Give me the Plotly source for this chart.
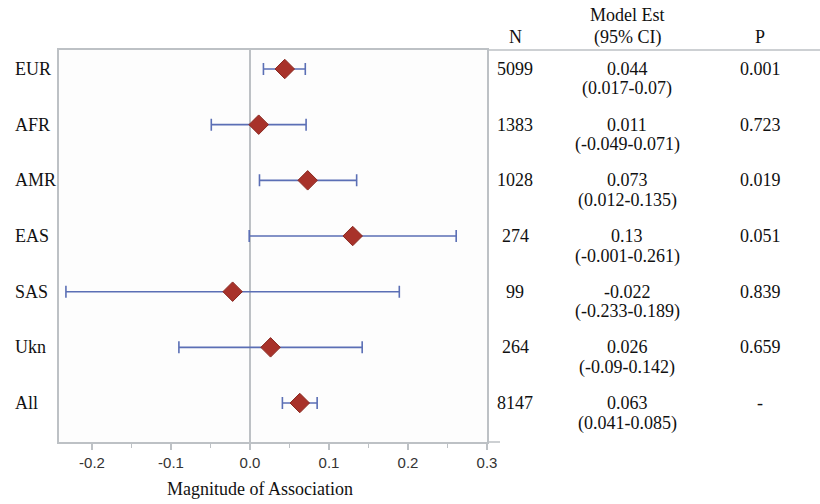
import plotly.graph_objects as go

groups = ["EUR", "AFR", "AMR", "EAS", "SAS", "Ukn", "All"]
est = [0.044, 0.011, 0.073, 0.13, -0.022, 0.026, 0.063]
lo = [0.017, -0.049, 0.012, -0.001, -0.233, -0.09, 0.041]
hi = [0.07, 0.071, 0.135, 0.261, 0.189, 0.142, 0.085]
n_vals = ["5099", "1383", "1028", "274", "99", "264", "8147"]
ci_text = ["(0.017-0.07)", "(-0.049-0.071)", "(0.012-0.135)", "(-0.001-0.261)",
           "(-0.233-0.189)", "(-0.09-0.142)", "(0.041-0.085)"]
est_text = ["0.044", "0.011", "0.073", "0.13", "-0.022", "0.026", "0.063"]
p_vals = ["0.001", "0.723", "0.019", "0.051", "0.839", "0.659", "-"]
x_ticks = [-0.2, -0.1, 0.0, 0.1, 0.2, 0.3]
x_tick_labels = ["-0.2", "-0.1", "0.0", "0.1", "0.2", "0.3"]

W, H = 820, 504
L, R, T, B = 59, 487, 50, 442
pw, ph = R - L, B - T

def px(xpix):
    return (xpix - L) / pw

def py(ypix):
    return (B - ypix) / ph

ypos = list(range(len(groups)))
err_plus = [h - e for h, e in zip(hi, est)]
err_minus = [e - l for e, l in zip(est, lo)]

serif = "Liberation Serif"
sans = "Liberation Sans"
FS = 18
AX = "#bdc1c5"

fig = go.Figure()
fig.add_trace(go.Scatter(
    x=est, y=ypos, mode="markers",
    marker=dict(symbol="diamond", size=15, color="#a8322a",
                line=dict(color="#8a2a22", width=1)),
    error_x=dict(type="data", symmetric=False, array=err_plus, arrayminus=err_minus,
                 color="#5b6fb5", thickness=1.6, width=6),
    showlegend=False, hoverinfo="skip",
))

annotations = []
for i, g in enumerate(groups):
    annotations.append(dict(x=px(13), y=i, xref="paper", yref="y", text=g,
                            showarrow=False, xanchor="left", yanchor="middle",
                            font=dict(family=serif, size=FS, color="#111")))
    annotations.append(dict(x=px(515), y=i, xref="paper", yref="y", text=n_vals[i],
                            showarrow=False, xanchor="center", yanchor="middle",
                            font=dict(family=serif, size=FS, color="#111")))
    annotations.append(dict(x=px(627), y=i, xref="paper", yref="y", text=est_text[i],
                            showarrow=False, xanchor="center", yanchor="middle",
                            font=dict(family=serif, size=FS, color="#111")))
    annotations.append(dict(x=px(627), y=i, xref="paper", yref="y", text=ci_text[i],
                            showarrow=False, xanchor="center", yanchor="middle", yshift=-20,
                            font=dict(family=serif, size=FS, color="#111")))
    annotations.append(dict(x=px(760), y=i, xref="paper", yref="y", text=p_vals[i],
                            showarrow=False, xanchor="center", yanchor="middle",
                            font=dict(family=serif, size=FS, color="#111")))

headers = [("N", 515, 37), ("Model Est", 627, 15), ("(95% CI)", 627, 37), ("P", 760, 37)]
for t, xx, yy in headers:
    annotations.append(dict(x=px(xx), y=py(yy), xref="paper", yref="paper", text=t,
                            showarrow=False, xanchor="center", yanchor="middle",
                            font=dict(family=serif, size=FS, color="#111")))

annotations.append(dict(x=px(260), y=py(489), xref="paper", yref="paper",
                        text="Magnitude of Association", showarrow=False,
                        xanchor="center", yanchor="middle",
                        font=dict(family=serif, size=FS, color="#111")))

shapes = [
    dict(type="line", xref="paper", yref="paper", x0=1, x1=px(820), y0=1, y1=1,
         line=dict(color=AX, width=1.5)),
    dict(type="line", xref="paper", yref="paper", x0=1, x1=px(500), y0=0, y1=0,
         line=dict(color=AX, width=1.5)),
]

y0_val = -19 / 55.7
y1_val = 6 + 39 / 55.7

fig.update_layout(
    width=W, height=H,
    margin=dict(l=L, r=W - R, t=T, b=H - B),
    paper_bgcolor="white",
    plot_bgcolor="#fdfdfd",
    annotations=annotations,
    shapes=shapes,
    xaxis=dict(
        range=[-(250 - L) / 790, 0.3], tickvals=x_ticks, ticktext=x_tick_labels,
        showgrid=False, zeroline=True, zerolinecolor=AX, zerolinewidth=1.5,
        showline=True, linecolor=AX, linewidth=1.5, mirror=True,
        ticks="outside", ticklen=6, tickcolor=AX, tickwidth=1.5,
        minor=dict(dtick=0.05, tick0=0, ticks="outside", ticklen=4,
                   tickcolor=AX, tickwidth=1.2, showgrid=False),
        tickfont=dict(family=sans, size=15, color="#333"),
        fixedrange=True,
    ),
    yaxis=dict(
        range=[y1_val, y0_val], showticklabels=False, showgrid=False, zeroline=False,
        showline=True, linecolor=AX, linewidth=1.5, mirror=True, ticks="",
        fixedrange=True,
    ),
)

fig.write_html("out.html", config={"displayModeBar": False},
               post_script="document.body.style.margin='0';")
